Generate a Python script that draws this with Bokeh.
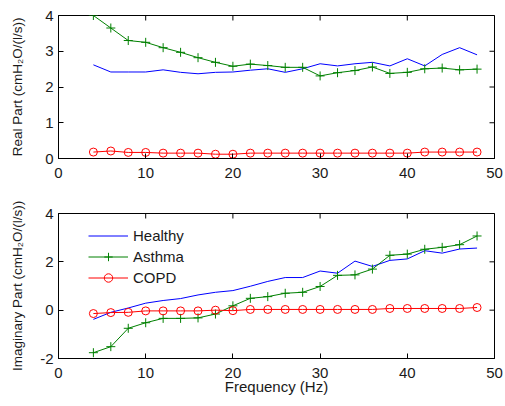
import math
from bokeh.plotting import figure
from bokeh.layouts import column
from bokeh.models import Range1d, FixedTicker, Legend, LegendItem
from bokeh.embed import file_html
from bokeh.resources import INLINE

freq = [4, 6, 8, 10, 12, 14, 16, 18, 20, 22, 24, 26, 28, 30, 32, 34, 36, 38, 40, 42, 44, 46, 48]

real_healthy = [2.62, 2.42, 2.42, 2.42, 2.48, 2.41, 2.37, 2.41, 2.42, 2.47, 2.51, 2.41, 2.51,
                2.65, 2.59, 2.65, 2.69, 2.59, 2.79, 2.59, 2.91, 3.10, 2.90]
real_asthma = [4.00, 3.65, 3.30, 3.25, 3.10, 2.97, 2.82, 2.69, 2.58, 2.64, 2.60, 2.55, 2.55,
               2.31, 2.40, 2.46, 2.56, 2.38, 2.41, 2.51, 2.53, 2.48, 2.50]
real_copd = [0.18, 0.21, 0.17, 0.17, 0.15, 0.15, 0.15, 0.12, 0.12, 0.15, 0.15, 0.15, 0.15,
             0.15, 0.15, 0.15, 0.15, 0.15, 0.15, 0.18, 0.18, 0.18, 0.18]

imag_healthy = [-0.38, -0.09, 0.09, 0.29, 0.40, 0.48, 0.63, 0.74, 0.81, 0.99, 1.19, 1.35, 1.35,
                1.62, 1.53, 2.03, 1.81, 2.06, 2.12, 2.46, 2.36, 2.53, 2.57]
imag_asthma = [-1.76, -1.51, -0.75, -0.52, -0.34, -0.34, -0.32, -0.16, 0.18, 0.49, 0.56, 0.70, 0.74,
               0.98, 1.44, 1.46, 1.70, 2.27, 2.32, 2.52, 2.60, 2.71, 3.07]
imag_copd = [-0.14, -0.10, -0.09, -0.03, -0.03, -0.03, -0.03, 0.00, -0.02, 0.03, 0.03, 0.03, 0.03,
             0.03, 0.03, 0.03, 0.03, 0.07, 0.07, 0.07, 0.07, 0.07, 0.11]

x_ticks = [0, 10, 20, 30, 40, 50]
x_limits = (0, 50)
real_ticks = [0, 1, 2, 3, 4]
real_limits = (0, 4)
imag_ticks = [-2, 0, 2, 4]
imag_limits = (-2, 4)
series_names = ["Healthy", "Asthma", "COPD"]

FONT = "Liberation Sans"
FS = "15px"
YFS = "13.5px"
TXT = "#1a1a1a"


def style_axis(ax, ticks):
    ax.ticker = FixedTicker(ticks=ticks)
    ax.major_label_overrides = {t: str(t) for t in ticks}
    ax.major_tick_in = 5
    ax.major_tick_out = 0
    ax.minor_tick_line_color = None
    ax.axis_line_color = "black"
    ax.major_tick_line_color = "black"
    ax.major_label_text_font = FONT
    ax.major_label_text_font_size = FS
    ax.major_label_text_color = TXT
    ax.axis_label_text_font = FONT
    ax.axis_label_text_font_style = "normal"
    ax.axis_label_text_color = TXT


def make_fig(height, top, bottom, yr, yticks, ylabel, ylab_standoff, xlabel=None):
    p = figure(width=505, height=height, output_backend="svg", toolbar_location=None,
               x_range=Range1d(*x_limits), y_range=Range1d(*yr),
               min_border_left=58, min_border_right=11, min_border_top=top,
               min_border_bottom=bottom)
    p.xgrid.visible = False
    p.ygrid.visible = False
    p.outline_line_color = "black"
    p.background_fill_color = "white"
    p.border_fill_color = "white"
    style_axis(p.xaxis[0], x_ticks)
    p.xaxis[0].major_label_standoff = 9
    p.xaxis[0].axis_label_text_font_size = FS
    style_axis(p.yaxis[0], yticks)
    p.yaxis[0].major_label_standoff = 5
    p.yaxis[0].axis_label = ylabel
    p.yaxis[0].axis_label_text_font_size = YFS
    p.yaxis[0].axis_label_standoff = ylab_standoff
    if xlabel:
        p.xaxis[0].axis_label = xlabel
        p.xaxis[0].axis_label_standoff = -3
    # mirrored inward ticks on the top and right edges (half of each dash is clipped away)
    p.scatter(x_ticks, [yr[1]] * len(x_ticks), marker="dash", angle=math.pi / 2, size=10,
              line_color="black", line_width=1)
    p.scatter([x_limits[1]] * len(yticks), yticks, marker="dash", size=10,
              line_color="black", line_width=1)
    return p


def add_series(p, h, a, c):
    r_h = p.line(freq, h, line_color="#0000ff", line_width=1)
    r_a = p.line(freq, a, line_color="#008000", line_width=1)
    m_a = p.scatter(freq, a, marker="cross", size=9, line_color="#008000", line_width=1)
    r_c = p.line(freq, c, line_color="#ff0000", line_width=1)
    m_c = p.scatter(freq, c, marker="circle", size=8, line_color="#ff0000",
                    fill_color=None, line_width=1)
    return [[r_h], [r_a, m_a], [r_c, m_c]]


p1 = make_fig(198, 15, 40, real_limits, real_ticks, "Real Part (cmH\u2082O/(l/s))", 17)
add_series(p1, real_healthy, real_asthma, real_copd)

p2 = make_fig(206, 15, 46, imag_limits, imag_ticks, "Imaginary Part (cmH\u2082O/(l/s))", 12,
              xlabel="Frequency (Hz)")
rends = add_series(p2, imag_healthy, imag_asthma, imag_copd)

legend = Legend(items=[LegendItem(label=n, renderers=r) for n, r in zip(series_names, rends)],
                location=(30, 70))
legend.padding = 0
legend.spacing = 0
legend.margin = 0
legend.glyph_width = 40
legend.glyph_height = 21
legend.label_height = 21
legend.label_standoff = 5
legend.label_text_font = FONT
legend.label_text_font_size = FS
legend.label_text_color = TXT
legend.border_line_color = None
legend.background_fill_alpha = 0
p2.add_layout(legend)

layout = column(p1, p2, spacing=0)

with open("out.html", "w") as f:
    f.write(file_html(layout, INLINE))
